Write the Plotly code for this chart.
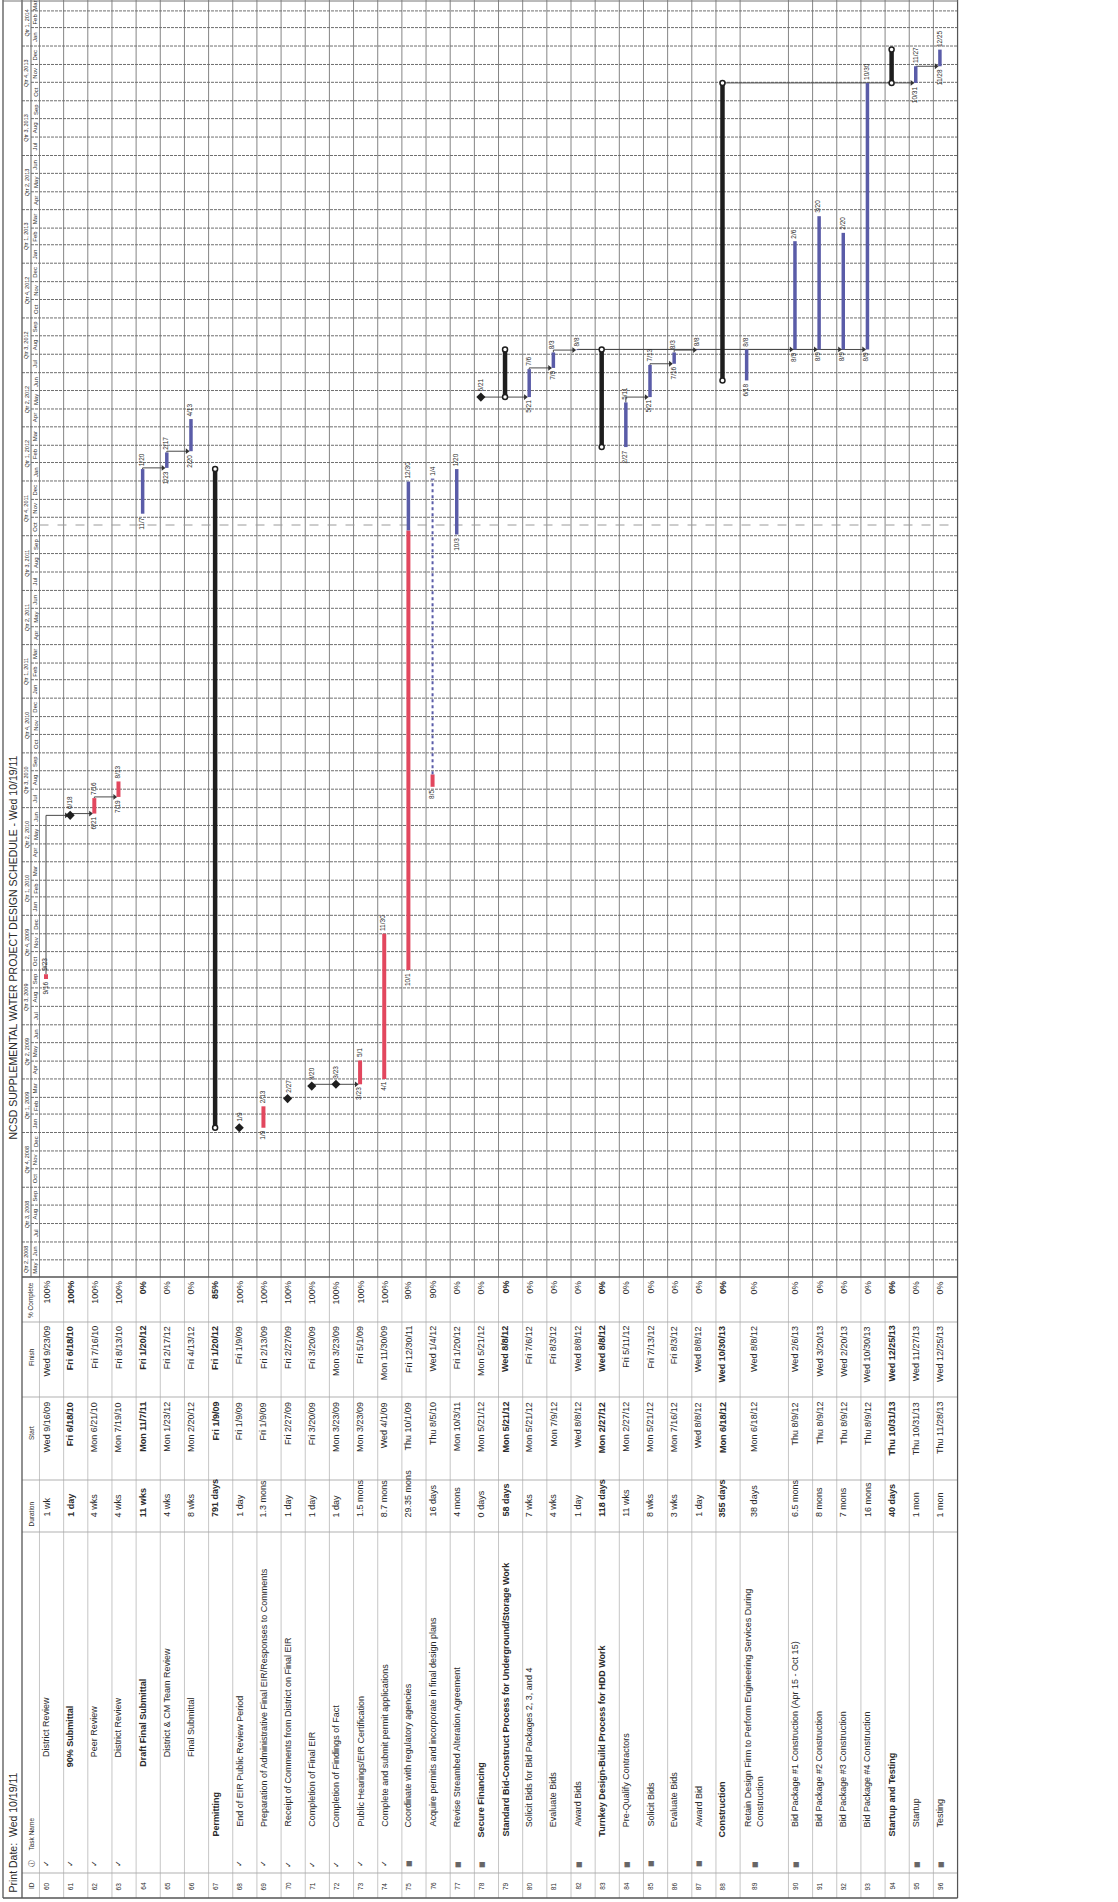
import pandas as pd
import plotly.graph_objects as go

# ----------------------------- data -----------------------------
ids = list(range(60, 97))
names = [
    "District Review", "90% Submittal", "Peer Review", "District Review",
    "Draft Final Submittal", "District & CM Team Review", "Final Submittal",
    "Permitting", "End of EIR Public Review Period",
    "Preparation of Administrative Final EIR/Responses to Comments",
    "Receipt of Comments from District on Final EIR", "Completion of Final EIR",
    "Completion of Findings of Fact", "Public Hearings/EIR Certification",
    "Complete and submit permit applications", "Coordinate with regulatory agencies",
    "Acquire permits and incorporate in final design plans",
    "Revise Streambed Alteration Agreement", "Secure Financing",
    "Standard Bid-Construct Process for Underground/Storage Work",
    "Solicit Bids for Bid Packages 2, 3, and 4", "Evaluate Bids", "Award Bids",
    "Turnkey Design-Build Process for HDD Work", "Pre-Qualify Contractors",
    "Solicit Bids", "Evaluate Bids", "Award Bid", "Construction",
    "Retain Design Firm to Perform Engineering Services During<br>Construction",
    "Bid Package #1 Construction (Apr 15 - Oct 15)", "Bid Package #2 Construction",
    "Bid Package #3 Construction", "Bid Package #4 Construction",
    "Startup and Testing", "Startup", "Testing",
]
durations = [
    "1 wk", "1 day", "4 wks", "4 wks", "11 wks", "4 wks", "8 wks", "791 days",
    "1 day", "1.3 mons", "1 day", "1 day", "1 day", "1.5 mons", "8.7 mons",
    "29.35 mons", "16 days", "4 mons", "0 days", "58 days", "7 wks", "4 wks",
    "1 day", "118 days", "11 wks", "8 wks", "3 wks", "1 day", "355 days",
    "38 days", "6.5 mons", "8 mons", "7 mons", "16 mons", "40 days", "1 mon", "1 mon",
]
starts = [
    "2009-09-16", "2010-06-18", "2010-06-21", "2010-07-19", "2011-11-07",
    "2012-01-23", "2012-02-20", "2009-01-09", "2009-01-09", "2009-01-09",
    "2009-02-27", "2009-03-20", "2009-03-23", "2009-03-23", "2009-04-01",
    "2009-10-01", "2010-08-05", "2011-10-03", "2012-05-21", "2012-05-21",
    "2012-05-21", "2012-07-09", "2012-08-08", "2012-02-27", "2012-02-27",
    "2012-05-21", "2012-07-16", "2012-08-08", "2012-06-18", "2012-06-18",
    "2012-08-09", "2012-08-09", "2012-08-09", "2012-08-09", "2013-10-31",
    "2013-10-31", "2013-11-28",
]
finishes = [
    "2009-09-23", "2010-06-18", "2010-07-16", "2010-08-13", "2012-01-20",
    "2012-02-17", "2012-04-13", "2012-01-20", "2009-01-09", "2009-02-13",
    "2009-02-27", "2009-03-20", "2009-03-23", "2009-05-01", "2009-11-30",
    "2011-12-30", "2012-01-04", "2012-01-20", "2012-05-21", "2012-08-08",
    "2012-07-06", "2012-08-03", "2012-08-08", "2012-08-08", "2012-05-11",
    "2012-07-13", "2012-08-03", "2012-08-08", "2013-10-30", "2012-08-08",
    "2013-02-06", "2013-03-20", "2013-02-20", "2013-10-30", "2013-12-25",
    "2013-11-27", "2013-12-25",
]
pct_complete = [100, 100, 100, 100, 0, 0, 0, 85, 100, 100, 100, 100, 100, 100,
                100, 90, 90, 0, 0, 0, 0, 0, 0, 0, 0, 0, 0, 0, 0, 0, 0, 0, 0, 0, 0, 0, 0]
outline_level = [6, 5, 6, 6, 5, 6, 6,
                 1, 2, 2, 2, 2, 2, 2, 2, 2, 2, 2,
                 1, 1, 2, 2, 2, 1, 2, 2, 2, 2,
                 1, 2, 2, 2, 2, 2, 1, 2, 2]
milestone_ids = [61, 68, 70, 71, 72, 78]
summary_ids = [67, 79, 83, 88, 94]
bold_ids = [61, 64, 67, 78, 79, 83, 88, 94]
complete_ids = [i for i, p in zip(ids, pct_complete) if p == 100]
constraint_ids = [75, 77, 78, 82, 84, 85, 87, 89, 90, 95, 96]
double_height_ids = [89]
split_id = 76
split_gap = ["2010-08-26", "2012-01-03"]
links = [(60, 61), (61, 62), (62, 63), (64, 65), (65, 66), (71, 73),
         (78, 80), (80, 81), (81, 82), (84, 85), (85, 86), (86, 87),
         (82, 90), (82, 91), (82, 92), (82, 93), (88, 95), (95, 96)]
print_date = "2011-10-19"
chart_title = "NCSD SUPPLEMENTAL WATER PROJECT DESIGN SCHEDULE - Wed 10/19/11"
print_label = "Print Date:  Wed 10/19/11"
header_labels = ["ID", "Task Name", "Duration", "Start", "Finish", "% Complete"]

# ----------------------------- layout constants -----------------------------
W, H = 1118, 1902
ROW0, PITCH = 46.0, 24.16
G_BOTTOM = 1277.0
REF_DATE, REF_PX, PX_DAY = pd.Timestamp("2009-01-01"), 1132.5, 0.595
F = "Liberation Sans, Arial, sans-serif"
TXT = "#2a2a2a"
RED, BLUE, BLK = "#e2475e", "#5a5ca8", "#1e1e1e"
GRID_V, GRID_H = "#858585", "#6f6f6f"
ONE = pd.Timedelta(days=1)


def py(px):
    return 1 - px / H


def pxx(px):
    return px / W


def px_to_date(px):
    return REF_DATE + pd.Timedelta(days=(REF_PX - px) / PX_DAY)


def ds(ts):
    return pd.Timestamp(ts).strftime("%Y-%m-%d %H:%M:%S")


def md(ts):
    return f"{ts.month}/{ts.day}"


def full(ts):
    return f"{ts.strftime('%a')} {ts.month}/{ts.day}/{ts.strftime('%y')}"


y_lo, y_hi = px_to_date(G_BOTTOM), px_to_date(0)
x_lo, x_hi = -ROW0 / PITCH, (W - ROW0) / PITCH

slot = {}
s = 0
for rid in ids:
    slot[rid] = s
    s += 2 if rid in double_height_ids else 1
n_slots = s
SEP = 0.27
row = {rid: i for i, rid in enumerate(ids)}

fig = go.Figure()
ann = []
shapes = []


def A(text, x, y, xref="x", yref="paper", size=9, yanchor="middle",
      xanchor="center", bold=False, yshift=0, color=TXT):
    ann.append(dict(text=f"<b>{text}</b>" if bold else text, x=x, y=y,
                    xref=xref, yref=yref, showarrow=False, textangle=-90,
                    font=dict(family=F, size=size, color=color),
                    xanchor=xanchor, yanchor=yanchor, yshift=yshift,
                    align="left", borderpad=0))


def L(x0, y0, x1, y1, xref="paper", yref="paper", color=GRID_V, width=1, dash="solid"):
    shapes.append(dict(type="line", x0=x0, y0=y0, x1=x1, y1=y1, xref=xref,
                       yref=yref, line=dict(color=color, width=width, dash=dash),
                       layer="below"))


# ----------------------------- grid -----------------------------
sep_slots = [k for k in range(n_slots + 1) if k - 1 not in [slot[d] for d in double_height_ids]]
for k in sep_slots:
    L(k - SEP, py(G_BOTTOM), k - SEP, 1, xref="x", color=GRID_V, width=1)
    L(k - SEP, py(1898), k - SEP, py(G_BOTTOM), xref="x", color="#b8b8b8", width=0.8)

right_px = ROW0 + (n_slots - SEP) * PITCH
months = pd.date_range("2008-01-01", "2014-12-01", freq="MS")
for m in months:
    if y_lo < m < y_hi:
        x0 = 22 if m.month in (1, 4, 7, 10) else 31
        L(pxx(x0), ds(m), pxx(right_px), ds(m), yref="y", color=GRID_H, width=1,
          dash="3px,1px")
    nxt = m + pd.offsets.MonthBegin(1)
    a, b = max(m, y_lo), min(nxt, y_hi)
    if (b - a).days >= 12:
        A(m.strftime("%b"), pxx(35.3), ds(a + (b - a) / 2), xref="paper", yref="y", size=6)
quarters = pd.date_range("2008-01-01", "2014-12-01", freq="QS")
for q in quarters:
    nxt = q + pd.offsets.QuarterBegin(1, startingMonth=1)
    a, b = max(q, y_lo), min(nxt, y_hi)
    if (b - a).days >= 40:
        A(f"Qtr {(q.month - 1) // 3 + 1}, {q.year}", pxx(26.6), ds(a + (b - a) / 2),
          xref="paper", yref="y", size=5.5)

# frame and table lines
for ypx in [1322, 1397, 1480, 1532, 1873]:
    L(pxx(22), py(ypx), pxx(right_px), py(ypx), color="#a8a8a8", width=0.9)
L(pxx(22), py(G_BOTTOM), pxx(right_px), py(G_BOTTOM), color="#555", width=1.3)
L(pxx(31), py(G_BOTTOM), pxx(31), 1, color="#666", width=1)
for xp in [3, 22]:
    L(pxx(xp), py(1898), pxx(xp), 1, color="#555", width=1.3)
L(pxx(right_px), py(1898), pxx(right_px), 1, color="#555", width=1.2)
L(pxx(3), py(1898), pxx(right_px), py(1898), color="#555", width=1.3)
L(pxx(3), py(1), pxx(right_px), py(1), color="#777", width=1)

# current date line
L(pxx(39.5), ds(print_date), pxx(right_px), ds(print_date), yref="y",
  color="#9a9a9a", width=1, dash="dash")

# ----------------------------- bars -----------------------------
red_x, red_y, blue_x, blue_y = [], [], [], []
sum_x, sum_y, cap_x, cap_y = [], [], [], []
ms_x, ms_y = [], []
dot_x, dot_y = [], []


def seg(xs, ys, x, a, b):
    xs += [x, x, None]
    ys += [ds(a), ds(b), None]


for rid, st, fi, pc in zip(ids, starts, finishes, pct_complete):
    x = slot[rid]
    a, b = pd.Timestamp(st), pd.Timestamp(fi) + ONE
    if rid in milestone_ids:
        ms_x.append(x)
        ms_y.append(ds(a))
        A(md(a), x, ds(a), yref="y", size=6.5, yanchor="bottom", yshift=5)
        continue
    if rid in summary_ids:
        seg(sum_x, sum_y, x, a, b)
        cap_x += [x, x]
        cap_y += [ds(a), ds(b)]
        continue
    if rid == split_id:
        g0, g1 = pd.Timestamp(split_gap[0]), pd.Timestamp(split_gap[1])
        pieces = [(a, g0), (g1, b)]
        seg(dot_x, dot_y, x, g0, g1)
    else:
        pieces = [(a, b)]
    total = sum((q - p for p, q in pieces), pd.Timedelta(0))
    done = total * (pc / 100.0)
    for p, q in pieces:
        ln = q - p
        if done >= ln:
            seg(red_x, red_y, x, p, q)
            done -= ln
        elif done > pd.Timedelta(0):
            m = p + done
            seg(red_x, red_y, x, p, m)
            seg(blue_x, blue_y, x, m, q)
            done = pd.Timedelta(0)
        else:
            seg(blue_x, blue_y, x, p, q)
    if st != fi:
        A(md(a), x - 0.04, ds(a), yref="y", size=6.5, yanchor="top", yshift=-2)
    A(md(pd.Timestamp(fi)), x - 0.04, ds(b), yref="y", size=6.5, yanchor="bottom", yshift=2)

# links
lk_x, lk_y, ar_x, ar_y = [], [], [], []
for p, q in links:
    ip, iq = row[p], row[q]
    fp = pd.Timestamp(finishes[ip]) + (pd.Timedelta(0) if p in milestone_ids else ONE)
    sq = pd.Timestamp(starts[iq])
    xp, xq = slot[p], slot[q] - 0.16
    lk_x += [xp, xp, xq, None]
    lk_y += [ds(fp), ds(sq), ds(sq), None]
    ar_x.append(xq)
    ar_y.append(ds(sq))

fig.add_trace(go.Scatter(x=lk_x, y=lk_y, mode="lines", line=dict(color="#4a4a4a", width=1),
                         hoverinfo="skip"))
fig.add_trace(go.Scatter(x=ar_x, y=ar_y, mode="markers", hoverinfo="skip",
                         marker=dict(symbol="triangle-right", size=5, color="#333")))
fig.add_trace(go.Scatter(x=dot_x, y=dot_y, mode="lines", hoverinfo="skip",
                         line=dict(color=BLUE, width=2, dash="dot")))
fig.add_trace(go.Scatter(x=red_x, y=red_y, mode="lines", hoverinfo="skip",
                         line=dict(color=RED, width=4)))
fig.add_trace(go.Scatter(x=blue_x, y=blue_y, mode="lines", hoverinfo="skip",
                         line=dict(color=BLUE, width=3.5)))
fig.add_trace(go.Scatter(x=sum_x, y=sum_y, mode="lines", hoverinfo="skip",
                         line=dict(color=BLK, width=4.5)))
fig.add_trace(go.Scatter(x=cap_x, y=cap_y, mode="markers", hoverinfo="skip",
                         marker=dict(symbol="circle", size=5, color="white",
                                     line=dict(color=BLK, width=1.5))))
fig.add_trace(go.Scatter(x=ms_x, y=ms_y, mode="markers", hoverinfo="skip",
                         marker=dict(symbol="diamond", size=7, color=BLK)))

# ----------------------------- table -----------------------------
level_px = {1: 1838, 2: 1828, 5: 1768, 6: 1758}
for i, rid in enumerate(ids):
    x = slot[rid] + (0.3 if rid in double_height_ids else 0)
    b = rid in bold_ids
    st, fi = pd.Timestamp(starts[i]), pd.Timestamp(finishes[i])
    A(str(rid), x, py(1886), size=6.5)
    if rid in complete_ids:
        A("✓", x, py(1864), size=8, color="#333")
    if rid in constraint_ids:
        A("▦", x, py(1864), size=7, color="#333")
    A(names[i].replace("&", "&amp;"), x, py(level_px[outline_level[i]]),
      size=9, yanchor="bottom", bold=b)
    A(durations[i], x, py(1518), size=9, yanchor="bottom", bold=b and rid != 78)
    A(full(st), x, py(1401), size=9, yanchor="top", bold=b and rid != 78)
    A(full(fi), x, py(1325), size=9, yanchor="top", bold=b and rid != 78)
    A(f"{pct_complete[i]}%", x, py(1280), size=9, yanchor="top", bold=b and rid != 78)

# header strip labels
hx = pxx(31)
A(header_labels[0], hx, py(1886), xref="paper", size=6.5)
A("ⓘ", hx, py(1864), xref="paper", size=7)
A(header_labels[1], hx, py(1852), xref="paper", size=6.5, yanchor="bottom")
A(header_labels[2], hx, py(1528), xref="paper", size=6.5, yanchor="bottom")
A(header_labels[3], hx, py(1433), xref="paper", size=6.5)
A(header_labels[4], hx, py(1357), xref="paper", size=6.5)
A(header_labels[5], hx, py(1300), xref="paper", size=6.5)

# titles
A(chart_title, pxx(12.5), py(948), xref="paper", size=10.5)
A(print_label, pxx(12.5), py(1894), xref="paper", size=10.5, yanchor="bottom")

fig.update_layout(
    width=W, height=H, margin=dict(l=0, r=0, t=0, b=0),
    paper_bgcolor="white", plot_bgcolor="white", showlegend=False,
    xaxis=dict(range=[x_lo, x_hi], domain=[0, 1], visible=False, fixedrange=True),
    yaxis=dict(type="date", range=[ds(y_lo), ds(y_hi)], domain=[py(G_BOTTOM), 1],
               visible=False, fixedrange=True),
    annotations=ann, shapes=shapes,
)
fig.write_html("out.html")
